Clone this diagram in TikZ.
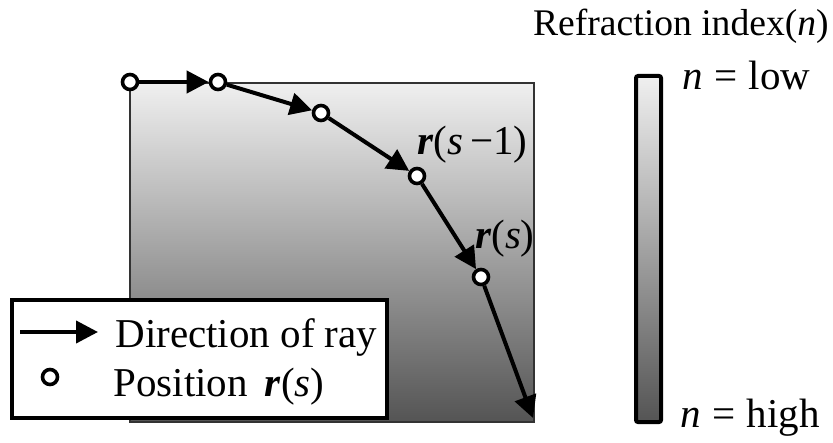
\documentclass[tikz,border=0pt]{standalone}
\usepackage{fontspec}
\setmainfont{Liberation Serif}
\usetikzlibrary{positioning,arrows.meta}
\newcommand{\vecr}{\textbf{\textit{r}}}

\begin{document}
\begin{tikzpicture}[
        x=0.5pt, y=-0.5pt,
        >={Triangle[length=11pt,width=11pt]},
        ray/.style={->, line width=2pt},
        raypt/.style={
            circle,
            draw,
            fill=white,
            line width=1.8pt,
            inner sep=0pt,
            minimum size=7.5pt
        },
        lbl/.style={font=\fontsize{20.5}{24}\selectfont, inner sep=0pt},
        graded/.style={
            rectangle,
            inner sep=0pt,
            top color=black!6,
            bottom color=black!67
        }
    ]
    \useasboundingbox (0,0) rectangle (833,443);

    % MEDIUM WITH GRADED INDEX
    \node[graded, draw=black!80, line width=0.8pt, minimum width=202pt, minimum height=169.5pt] (medium) at (332,252.5) {};

    % RAY POSITIONS
    \node[raypt] (p0) at (130,82) {};
    \node[raypt] (p1) at (218,82) {};
    \node[raypt] (p2) at (321,113) {};
    \node[raypt] (p3) at (417,176) {};
    \node[raypt] (p4) at (481,277) {};
    \coordinate (pend) at (533,418);

    % RAY
    \draw[ray] (p0) -- (p1);
    \draw[ray] (p1) -- (p2);
    \draw[ray] (p2) -- (p3);
    \draw[ray] (p3) -- (p4);
    \draw[ray] (p4) -- (pend);

    \node[lbl, anchor=base east] (rprev) at (528,155) {\vecr(\textit{s}\,−1)};
    \node[lbl, anchor=base east] (rcur) at (535,248) {\vecr(\textit{s})};

    % LEGEND
    \node[rectangle, draw, fill=white, line width=2pt, minimum width=187.5pt, minimum height=59pt] (legend) at (199.5,359) {};
    \coordinate (la) at (20,332);
    \coordinate (lb) at (98,332);
    \draw[ray] (la) -- (lb);
    \node[raypt] (lpos) at (50,377) {};
    \node[lbl, anchor=base west] (ldir) at (115,347) {Direction of ray};
    \node[lbl, anchor=base west] (lposition) at (113,396) {Position \,\vecr(\textit{s})};

    % REFRACTION INDEX BAR
    \node[graded, draw, line width=2pt, rounded corners=1pt, minimum width=12.5pt, minimum height=173pt] (nbar) at (648.5,249) {};
    \node[lbl, font=\fontsize{18.8}{22}\selectfont, anchor=base east] (ntitle) at (829,36) {Refraction index(\textit{n})};
    \node[lbl, anchor=base west] (nlow) at (682,90) {\textit{n}\;=\;low};
    \node[lbl, anchor=base west] (nhigh) at (680,427) {\textit{n}\;=\;high};
\end{tikzpicture}
\end{document}
